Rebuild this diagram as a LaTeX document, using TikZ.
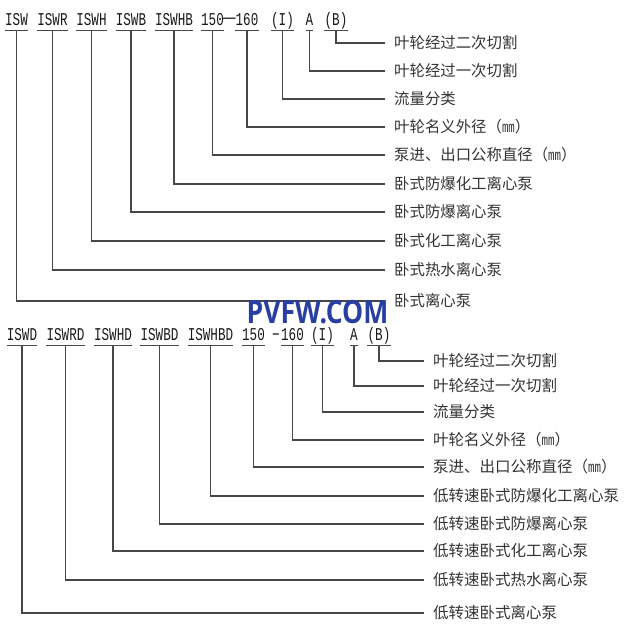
\documentclass[tikz,border=0pt]{standalone}
\usepackage{fontspec}
\usepackage{graphicx}
\setmainfont{Liberation Serif}
\newfontfamily\cjk{Noto Sans CJK SC}
\newfontfamily\codefont[FakeStretch=0.70]{Liberation Mono}
\newfontfamily\markfont{Open Sans}
\definecolor{markblue}{RGB}{40,62,160}
\newcommand\mmunit{（{\codefont mm}）}
\begin{document}
\begin{tikzpicture}
[x=1pt,y=-1pt,
 code/.style={anchor=base,inner sep=0pt,text depth=0pt,text height=8pt,text=black!90,
   font=\codefont\fontsize{18}{20}\selectfont},
 upper/.style={anchor=west,inner sep=0pt,inner xsep=9pt,text=black!80,
   font=\cjk\fontsize{15.4}{18}\selectfont},
 lower/.style={upper,font=\cjk\fontsize{15.5}{18}\selectfont},
 lead/.style={draw=black!72,line width=1.1pt}]
  \useasboundingbox (0,0) rectangle (639,630);

  % upper model code
  \foreach \n/\x/\t in {1/16.5/ISW, 2/52.5/ISWR, 3/91.5/ISWH, 4/131/ISWB,
      5/174/ISWHB, 6/212.5/150, 7/247/160, 8/282.5/(I), 9/309.5/A, 10/336/(B)}
    \node[code] (u\n) at (\x,25) {\t};
  \node[code] (udash) at (229.5,25) {\cjk －};

  \foreach \n/\y/\t in {10/43/叶轮经过二次切割, 9/71/叶轮经过一次切割,
      8/99/流量分类, 7/127/叶轮名义外径\mmunit, 6/155/泵进、出口公称直径\mmunit,
      5/184/卧式防爆化工离心泵, 4/212/卧式防爆离心泵, 3/241/卧式化工离心泵,
      2/270/卧式热水离心泵, 1/301/卧式离心泵}
    \node[upper] (ul\n) at (385,\y) {\t};

  \foreach \n in {1,...,10}
    {
      \draw[lead] ([yshift=-5.5pt]u\n.south west) -- ([yshift=-5.5pt]u\n.south east);
      \draw[lead] ([yshift=-5.5pt]u\n.south) |- (ul\n.west);
    }

  % lower model code
  \foreach \n/\x/\t in {1/22/ISWD, 2/65.5/ISWRD, 3/113/ISWHD, 4/159.5/ISWBD,
      5/210.5/ISWHBD, 6/253.5/150, 7/292.5/160, 8/322.5/(I), 9/354/A, 10/379/(B)}
    \node[code] (d\n) at (\x,340) {\t};
  \node[code] (ddash) at (276,340) {−};

  \foreach \n/\y/\t in {10/361/叶轮经过二次切割, 9/386/叶轮经过一次切割,
      8/412/流量分类, 7/440/叶轮名义外径\mmunit, 6/467/泵进、出口公称直径\mmunit,
      5/496/低转速卧式防爆化工离心泵, 4/524/低转速卧式防爆离心泵,
      3/551/低转速卧式化工离心泵, 2/580/低转速卧式热水离心泵,
      1/613/低转速卧式离心泵}
    \node[lower] (dl\n) at (424,\y) {\t};

  \foreach \n in {1,...,10}
    {
      \draw[lead] ([yshift=-5.5pt]d\n.south west) -- ([yshift=-5.5pt]d\n.south east);
      \draw[lead] ([yshift=-5.5pt]d\n.south) |- (dl\n.west);
    }

  \node[text=markblue,inner sep=0pt,font=\markfont\bfseries\fontsize{32}{36}\selectfont]
    (mark) at (317.5,312) {\scalebox{0.83}[1]{PVFW.COM}};
\end{tikzpicture}
\end{document}
